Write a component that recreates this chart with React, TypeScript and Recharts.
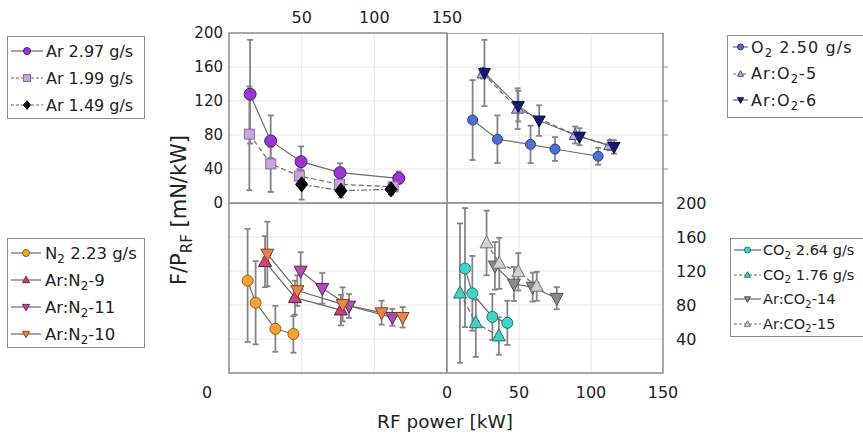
import React from "react";
import {
  CartesianGrid, ErrorBar, ReferenceArea, Scatter, ScatterChart, XAxis, YAxis,
} from "recharts";

// ---- top-left: argon ----
const arHighX = [14.5, 28.7, 49.6, 76.4, 116.8];
const arHighY = [128, 73, 48.6, 35.7, 29];
const arHighErr = [[58, 64], [20, 30], [10, 18], [8, 11], [6, 8]];

const arMidX = [14, 28.7, 48.4, 76, 113];
const arMidY = [81, 46, 31.8, 22, 19];
const arMidErr = [[66, 56], [33, 20], [12, 8], [6, 6], [5, 5]];

const arLowX = [50, 77, 111.5];
const arLowY = [22, 14.5, 16];
const arLowErr = [[18, 8], [8, 6], [6, 5]];

// ---- top-right: oxygen ----
const o2X = [17.8, 35, 58, 75, 105];
const o2Y = [97.6, 75, 69, 63.5, 55];
const o2Err = [47, 28, 22, 14, 10];

const arO2aX = [25, 49, 89, 113];
const arO2aY = [152.5, 111, 80, 68];
const arO2aErr = [6, 24, 10, 6];

const arO2bX = [26, 49.5, 64, 92, 116];
const arO2bY = [153, 114, 97, 78, 66];
const arO2bErr = [39, 18, 18, 10, 8];

// ---- bottom-left: nitrogen ----
const n2X = [12.8, 18.3, 31.9, 44.3];
const n2Y = [108.6, 82.7, 52, 45.9];
const n2Err = [[72, 61], [49, 49], [27, 27], [22, 21]];

const arN2aX = [24.8, 45.4, 77];
const arN2aY = [131, 88.6, 74];
const arN2aErr = [30, 20, 18];

const arN2bX = [49.3, 64.2, 82.6, 112.4];
const arN2bY = [120, 99.6, 78.8, 65.5];
const arN2bErr = [22, 18, 14, 10];

const arN2cX = [26.4, 47, 78.2, 105, 119.5];
const arN2cY = [140, 97, 80.8, 71, 65.5];
const arN2cErr = [38, 18, 20, 14, 12];

// ---- bottom-right: carbon dioxide ----
const co2HighX = [12.5, 17.6, 31.5, 41.9];
const co2HighY = [123, 93.7, 66, 59];
const co2HighErr = [[69, 71], [44, 44], [27, 27], [26, 26]];

const co2LowX = [9, 20, 36];
const co2LowY = [94, 59, 43.5];
const co2LowErr = [[82, 82], [40, 27], [22, 22]];

const arCo2aX = [33.3, 46.5, 59.5, 76.2];
const arCo2aY = [126, 104.7, 101, 88];
const arCo2aErr = [28, 20, 17, 13];

const arCo2bX = [27.5, 36.3, 49.5, 62.3];
const arCo2bY = [153, 129, 119, 102];
const arCo2bErr = [38, 30, 22, 17];

const xTicksTop = [50, 100, 150];
const xTicksBottom = [0, 50, 100, 150];
const yTicksLeft = [0, 40, 80, 120, 160, 200];
const yTicksRight = [40, 80, 120, 160, 200];
const gridY = [40, 80, 120, 160];
const gridX = [50, 100];

type Kind = "circle" | "square" | "diamond" | "up" | "down";
type Pt = { x: number; y: number; err: number | number[] };

const pts = (xs: number[], ys: number[], errs: (number | number[])[]): Pt[] =>
  xs.map((x, i) => ({ x, y: ys[i], err: errs[i] }));

const FONT = "DejaVu Sans, Verdana, sans-serif";
const LINE = "#6b6b6b";
const ERR = "#858585";
const BORDER = "#8c8c8c";

function Marker({ cx, cy, kind, fill, stroke, r }: { cx: number; cy: number; kind: Kind; fill: string; stroke: string; r: number }) {
  if (cx == null || cy == null) return null;
  if (kind === "circle") return <circle cx={cx} cy={cy} r={r} fill={fill} stroke={stroke} strokeWidth={1} />;
  if (kind === "square")
    return <rect x={cx - r} y={cy - r} width={2 * r} height={2 * r} fill={fill} stroke={stroke} strokeWidth={1} />;
  if (kind === "diamond")
    return <polygon points={`${cx},${cy - r * 1.25} ${cx + r},${cy} ${cx},${cy + r * 1.25} ${cx - r},${cy}`} fill={fill} stroke={stroke} strokeWidth={1} />;
  const s = kind === "up" ? 1 : -1;
  return (
    <polygon
      points={`${cx},${cy - s * r * 1.1} ${cx - r},${cy + s * r * 0.75} ${cx + r},${cy + s * r * 0.75}`}
      fill={fill} stroke={stroke} strokeWidth={1}
    />
  );
}

type Series = { name: string; data: Pt[]; kind: Kind; fill: string; stroke: string; r: number; dash?: string };

const argon: Series[] = [
  { name: "Ar 2.97 g/s", data: pts(arHighX, arHighY, arHighErr), kind: "circle", fill: "#9a35d6", stroke: "#4b1b72", r: 6 },
  { name: "Ar 1.99 g/s", data: pts(arMidX, arMidY, arMidErr), kind: "square", fill: "#c9a3dd", stroke: "#8a6a9c", r: 5, dash: "5 3" },
  { name: "Ar 1.49 g/s", data: pts(arLowX, arLowY, arLowErr), kind: "diamond", fill: "#050505", stroke: "#000", r: 6, dash: "6 2 2 2" },
];
const oxygen: Series[] = [
  { name: "O2 2.50 g/s", data: pts(o2X, o2Y, o2Err), kind: "circle", fill: "#4f6fd3", stroke: "#2a3f8a", r: 5 },
  { name: "Ar:O2-5", data: pts(arO2aX, arO2aY, arO2aErr), kind: "up", fill: "#b4aee6", stroke: "#4a4a80", r: 6, dash: "5 3" },
  { name: "Ar:O2-6", data: pts(arO2bX, arO2bY, arO2bErr), kind: "down", fill: "#151a75", stroke: "#0a0a40", r: 6 },
];
const nitrogen: Series[] = [
  { name: "N2 2.23 g/s", data: pts(n2X, n2Y, n2Err), kind: "circle", fill: "#f3a233", stroke: "#9a5a10", r: 5.5 },
  { name: "Ar:N2-9", data: pts(arN2aX, arN2aY, arN2aErr), kind: "up", fill: "#c8457f", stroke: "#6a2040", r: 6.5 },
  { name: "Ar:N2-11", data: pts(arN2bX, arN2bY, arN2bErr), kind: "down", fill: "#b24bb3", stroke: "#602060", r: 6.5 },
  { name: "Ar:N2-10", data: pts(arN2cX, arN2cY, arN2cErr), kind: "down", fill: "#e8844e", stroke: "#8a4020", r: 6.5 },
];
const carbon: Series[] = [
  { name: "CO2 2.64 g/s", data: pts(co2HighX, co2HighY, co2HighErr), kind: "circle", fill: "#42d4cb", stroke: "#1a7a75", r: 5.5 },
  { name: "CO2 1.76 g/s", data: pts(co2LowX, co2LowY, co2LowErr), kind: "up", fill: "#47cfc0", stroke: "#1a7a75", r: 6.5, dash: "5 3" },
  { name: "Ar:CO2-14", data: pts(arCo2aX, arCo2aY, arCo2aErr), kind: "down", fill: "#8a8a8a", stroke: "#555", r: 6.5 },
  { name: "Ar:CO2-15", data: pts(arCo2bX, arCo2bY, arCo2bErr), kind: "up", fill: "#d0d0d0", stroke: "#777", r: 6.5, dash: "5 3" },
];

const renderSeries = (s: Series) => (
  <Scatter
    key={s.name}
    name={s.name}
    data={s.data}
    fill={s.fill}
    line={{ stroke: LINE, strokeWidth: 1.2, strokeDasharray: s.dash }}
    lineType="joint"
    isAnimationActive={false}
    shape={(p: any) => <Marker cx={p.cx} cy={p.cy} kind={s.kind} fill={s.fill} stroke={s.stroke} r={s.r} />}
  >
    <ErrorBar dataKey="err" direction="y" width={3} stroke={ERR} strokeWidth={1.8} />
  </Scatter>
);

const frame = () => [
  <CartesianGrid key="g" stroke="#e8e8e8" horizontalValues={gridY} verticalValues={gridX} />,
  <ReferenceArea key="b" x1={0} x2={150} y1={0} y2={200} fill="none" fillOpacity={0} stroke={BORDER} strokeWidth={1.5} ifOverflow="visible" />,
];

const tickStyle = { fontFamily: FONT, fontSize: 16, fill: "#222" };

type LegendItem = { label: React.ReactNode; kind: Kind; fill: string; stroke: string; dash?: string };

const sub = (t: string) => (
  <span style={{ fontSize: "0.72em", position: "relative", top: "0.35em" }}>{t}</span>
);

function LegendBox({ box, items, fontSize, rowH, firstY, lineX1, lineX2, textX, r, spacing = 0 }: {
  box: number[]; items: LegendItem[]; fontSize: number; rowH: number; firstY: number;
  lineX1: number; lineX2: number; textX: number; r: number; spacing?: number;
}) {
  return (
    <div style={{ position: "absolute", left: box[0], top: box[1], width: box[2], height: box[3], border: `1px solid ${BORDER}`, background: "#fff", boxSizing: "border-box", overflow: "hidden" }}>
      {items.map((it, i) => (
        <div key={i} style={{ position: "absolute", left: 0, top: firstY + i * rowH - 12, height: 24, display: "flex", alignItems: "center", whiteSpace: "nowrap" }}>
          <svg width={textX} height={24} style={{ flex: "none" }}>
            <line x1={lineX1} x2={lineX2} y1={12} y2={12} stroke={LINE} strokeWidth={1.2} strokeDasharray={it.dash ? "3 2" : undefined} />
            <Marker cx={(lineX1 + lineX2) / 2} cy={12} kind={it.kind} fill={it.fill} stroke={it.stroke} r={r} />
          </svg>
          <span style={{ fontFamily: FONT, fontSize, color: "#222", letterSpacing: spacing }}>{it.label}</span>
        </div>
      ))}
    </div>
  );
}

const legendOf = (s: Series[], labels: React.ReactNode[]): LegendItem[] =>
  s.map((x, i) => ({ label: labels[i], kind: x.kind, fill: x.fill, stroke: x.stroke, dash: x.dash }));

export default function App() {
  return (
    <div style={{ position: "absolute", left: 0, top: 0, width: 863, height: 436, background: "#fff", overflow: "hidden" }}>
      {/* top-left */}
      <div style={{ position: "absolute", left: 184, top: 3 }}>
        <ScatterChart width={283} height={210} margin={{ top: 0, right: 20, bottom: 10, left: 0 }}>
          {frame()}
          <XAxis type="number" dataKey="x" orientation="top" domain={[0, 150]} ticks={xTicksTop} height={30} interval={0}
            axisLine={false} tickLine={false} tickSize={0} tickMargin={10} tick={tickStyle} allowDataOverflow />
          <YAxis type="number" dataKey="y" domain={[0, 200]} ticks={yTicksLeft} width={45} interval={0}
            axisLine={false} tickLine={false} tickSize={0} tickMargin={6} tick={{ ...tickStyle, fontSize: 15 }} allowDataOverflow />
          {argon.map(renderSeries)}
        </ScatterChart>
      </div>

      {/* top-right */}
      <div style={{ position: "absolute", left: 447, top: 33 }}>
        <ScatterChart width={226} height={170} margin={{ top: 0, right: 0, bottom: 0, left: 0 }}>
          {frame()}
          <XAxis type="number" dataKey="x" domain={[0, 150]} hide allowDataOverflow />
          <YAxis type="number" dataKey="y" orientation="right" domain={[0, 200]} ticks={gridY} width={10} interval={0}
            axisLine={false} tickSize={5} tickLine={{ stroke: BORDER }} tick={() => <g />} allowDataOverflow />
          {oxygen.map(renderSeries)}
        </ScatterChart>
      </div>

      {/* bottom-left */}
      <div style={{ position: "absolute", left: 195, top: 203 }}>
        <ScatterChart width={252} height={200} margin={{ top: 0, right: 0, bottom: 0, left: 34 }}>
          {frame()}
          <XAxis type="number" dataKey="x" domain={[0, 150]} ticks={[0]} height={30} interval={0}
            axisLine={false} tickLine={false} tickSize={0} tickMargin={14} tick={{ ...tickStyle, dx: -22 }} allowDataOverflow />
          <YAxis type="number" dataKey="y" domain={[0, 200]} hide allowDataOverflow />
          {nitrogen.map(renderSeries)}
        </ScatterChart>
      </div>

      {/* bottom-right */}
      <div style={{ position: "absolute", left: 432, top: 193 }}>
        <ScatterChart width={281} height={215} margin={{ top: 10, right: 0, bottom: 0, left: 15 }}>
          {frame()}
          <XAxis type="number" dataKey="x" domain={[0, 150]} ticks={xTicksBottom} height={35} interval={0}
            axisLine={false} tickLine={false} tickSize={0} tickMargin={14} tick={tickStyle} allowDataOverflow />
          <YAxis type="number" dataKey="y" orientation="right" domain={[0, 200]} ticks={yTicksRight} width={50} interval={0}
            axisLine={false} tickLine={false} tickSize={0} tickMargin={13} tick={tickStyle} allowDataOverflow />
          {carbon.map(renderSeries)}
        </ScatterChart>
      </div>

      {/* axis titles */}
      <svg style={{ position: "absolute", left: 0, top: 0 }} width={863} height={436} pointerEvents="none">
        <text transform="translate(186,210) rotate(-90)" textAnchor="middle" fontFamily={FONT} fontSize={21} fill="#222">
          F/P<tspan dy={6} fontSize={15}>RF</tspan><tspan dy={-6}> [mN/kW]</tspan>
        </text>
        <text x={445} y={428} textAnchor="middle" fontFamily={FONT} fontSize={18.5} fill="#222">RF power [kW]</text>
      </svg>

      <LegendBox box={[7, 36, 138, 83]} fontSize={16} rowH={27} firstY={14} lineX1={3} lineX2={35} textX={38} r={3.5}
        items={legendOf(argon, ["Ar 2.97 g/s", "Ar 1.99 g/s", "Ar 1.49 g/s"])} />
      <LegendBox box={[727, 35, 140, 83]} fontSize={16} rowH={26.5} firstY={11} lineX1={5} lineX2={20} textX={23} r={3} spacing={1.1}
        items={legendOf(oxygen, [<>O{sub("2")} 2.50 g/s</>, <>Ar:O{sub("2")}-5</>, <>Ar:O{sub("2")}-6</>])} />
      <LegendBox box={[7, 238, 138, 110]} fontSize={16.5} rowH={27} firstY={14} lineX1={3} lineX2={33} textX={37} r={3.5}
        items={legendOf(nitrogen, [<>N{sub("2")} 2.23 g/s</>, <>Ar:N{sub("2")}-9</>, <>Ar:N{sub("2")}-11</>, <>Ar:N{sub("2")}-10</>])} />
      <LegendBox box={[730, 238, 136, 99]} fontSize={14.5} rowH={24.5} firstY={11} lineX1={3} lineX2={30} textX={32} r={3}
        items={legendOf(carbon, [<>CO{sub("2")} 2.64 g/s</>, <>CO{sub("2")} 1.76 g/s</>, <>Ar:CO{sub("2")}-14</>, <>Ar:CO{sub("2")}-15</>])} />
    </div>
  );
}
